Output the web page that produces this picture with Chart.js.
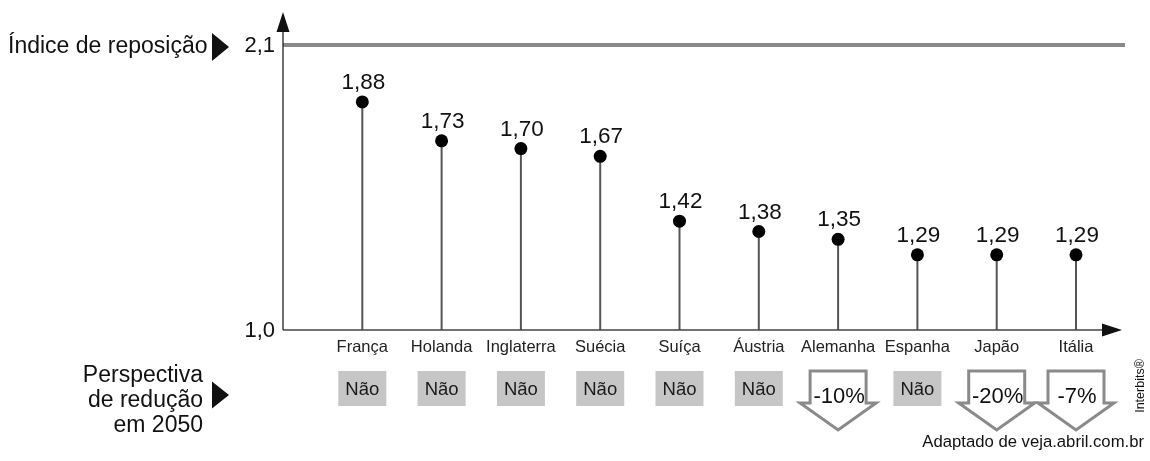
<!DOCTYPE html>
<html>
<head>
<meta charset="utf-8">
<script src="https://cdn.jsdelivr.net/npm/chart.js@4"></script>
<style>
html,body{margin:0;padding:0;background:#fff;}
#wrap{width:1150px;height:461px;position:relative;}
</style>
</head>
<body>
<div id="wrap"><canvas id="c" width="1150" height="461"></canvas></div>
<script>
const categorias = ['França','Holanda','Inglaterra','Suécia','Suíça','Áustria','Alemanha','Espanha','Japão','Itália'];
const indices = [1.88, 1.73, 1.70, 1.67, 1.42, 1.38, 1.35, 1.29, 1.29, 1.29];
const perspectiva = ['Não','Não','Não','Não','Não','Não','-10%','Não','-20%','-7%'];
const yTickValues = [1.0, 2.1];
const indiceReposicao = 2.1;

const FONT = '"Liberation Sans", Arial, Helvetica, sans-serif';
const fmt = (v, d) => v.toFixed(d).replace('.', ',');

function tri(ctx, x, y, w, h) {
  ctx.beginPath();
  ctx.moveTo(x, y - h / 2);
  ctx.lineTo(x + w, y);
  ctx.lineTo(x, y + h / 2);
  ctx.closePath();
  ctx.fill();
}

const drawPlugin = {
  id: 'lollipop',
  beforeDatasetsDraw(chart) {
    const ctx = chart.ctx;
    const xs = chart.scales.x, ys = chart.scales.y;
    const ca = chart.chartArea;
    const y0 = ys.getPixelForValue(ys.min);
    ctx.save();
    // reference line 2,1
    const yr = ys.getPixelForValue(indiceReposicao);
    ctx.strokeStyle = '#8a8a8a';
    ctx.lineWidth = 4;
    ctx.beginPath();
    ctx.moveTo(ca.left, yr);
    ctx.lineTo(ca.right + 3, yr);
    ctx.stroke();
    // stems
    ctx.strokeStyle = '#555';
    ctx.lineWidth = 2;
    indices.forEach((v, i) => {
      const x = xs.getPixelForValue(i + 1);
      ctx.beginPath();
      ctx.moveTo(x, y0);
      ctx.lineTo(x, ys.getPixelForValue(v));
      ctx.stroke();
    });
    // x axis
    ctx.strokeStyle = '#444';
    ctx.lineWidth = 1.5;
    ctx.beginPath();
    ctx.moveTo(ca.left, y0);
    ctx.lineTo(ca.right - 12, y0);
    ctx.stroke();
    ctx.fillStyle = '#111';
    ctx.beginPath();
    ctx.moveTo(ca.right, y0);
    ctx.lineTo(ca.right - 20, y0 - 6.5);
    ctx.lineTo(ca.right - 20, y0 + 6.5);
    ctx.closePath();
    ctx.fill();
    // y axis
    ctx.strokeStyle = '#222';
    ctx.lineWidth = 1.3;
    ctx.beginPath();
    ctx.moveTo(ca.left, y0);
    ctx.lineTo(ca.left, ca.top + 10);
    ctx.stroke();
    ctx.beginPath();
    ctx.moveTo(ca.left, ca.top);
    ctx.lineTo(ca.left - 6.5, ca.top + 20);
    ctx.lineTo(ca.left + 6.5, ca.top + 20);
    ctx.closePath();
    ctx.fill();
    ctx.restore();
  },
  afterDatasetsDraw(chart) {
    const ctx = chart.ctx;
    const xs = chart.scales.x, ys = chart.scales.y;
    const ca = chart.chartArea;
    const meta = chart.getDatasetMeta(0);
    ctx.save();
    ctx.fillStyle = '#111';
    // value labels
    ctx.font = '22.5px ' + FONT;
    ctx.textAlign = 'center';
    ctx.textBaseline = 'alphabetic';
    meta.data.forEach((pt, i) => {
      ctx.fillText(fmt(indices[i], 2), pt.x + 1, pt.y - 13);
    });
    // y tick labels
    ctx.font = '22px ' + FONT;
    ctx.textAlign = 'right';
    ctx.textBaseline = 'middle';
    yTickValues.forEach(v => {
      ctx.fillText(fmt(v, 1), ca.left - 8, ys.getPixelForValue(v) + 1);
    });
    // left titles
    const yr = ys.getPixelForValue(indiceReposicao);
    ctx.font = '23px ' + FONT;
    ctx.textAlign = 'left';
    ctx.textBaseline = 'alphabetic';
    ctx.fillText('Índice de reposição', 8, yr + 8);
    tri(ctx, 212, yr + 2, 17, 28);
    ctx.textAlign = 'right';
    ctx.fillText('Perspectiva', 203, 382);
    ctx.fillText('de redução', 203, 407);
    ctx.fillText('em 2050', 203, 432);
    tri(ctx, 212, 395, 17, 27);
    // category labels
    const y0 = ys.getPixelForValue(ys.min);
    ctx.font = '16.5px ' + FONT;
    ctx.textAlign = 'center';
    ctx.fillStyle = '#222';
    categorias.forEach((c, i) => {
      ctx.fillText(c, xs.getPixelForValue(i + 1), y0 + 22);
    });
    // perspective row
    perspectiva.forEach((p, i) => {
      const cx = xs.getPixelForValue(i + 1);
      if (p === 'Não') {
        ctx.fillStyle = '#c6c6c6';
        ctx.fillRect(cx - 24, 371, 48, 35);
        ctx.fillStyle = '#1a1a1a';
        ctx.font = '18.5px ' + FONT;
        ctx.textAlign = 'center';
        ctx.textBaseline = 'alphabetic';
        ctx.fillText(p, cx, 395);
      } else {
        ctx.beginPath();
        ctx.moveTo(cx - 28, 371);
        ctx.lineTo(cx + 28, 371);
        ctx.lineTo(cx + 28, 403);
        ctx.lineTo(cx + 38, 403);
        ctx.lineTo(cx, 430);
        ctx.lineTo(cx - 38, 403);
        ctx.lineTo(cx - 28, 403);
        ctx.closePath();
        ctx.fillStyle = '#fff';
        ctx.fill();
        ctx.strokeStyle = '#8a8a8a';
        ctx.lineWidth = 3;
        ctx.lineJoin = 'miter';
        ctx.stroke();
        ctx.fillStyle = '#111';
        ctx.font = '22px ' + FONT;
        ctx.textAlign = 'center';
        ctx.textBaseline = 'alphabetic';
        ctx.fillText(p, cx + 1, 403);
      }
    });
    // source
    ctx.fillStyle = '#111';
    ctx.font = '16.7px ' + FONT;
    ctx.textAlign = 'right';
    ctx.fillText('Adaptado de veja.abril.com.br', 1144, 447);
    // Interbits
    ctx.save();
    ctx.translate(1144, 386);
    ctx.rotate(-Math.PI / 2);
    ctx.font = '12.5px ' + FONT;
    ctx.textAlign = 'center';
    ctx.textBaseline = 'alphabetic';
    ctx.fillText('Interbits®', 0, 0);
    ctx.restore();
    ctx.restore();
  }
};

new Chart(document.getElementById('c'), {
  type: 'scatter',
  data: {
    datasets: [{
      data: indices.map((v, i) => ({ x: i + 1, y: v })),
      backgroundColor: '#000',
      borderColor: '#000',
      pointRadius: 6.5,
      pointHoverRadius: 6.5,
      borderWidth: 0
    }]
  },
  options: {
    responsive: false,
    animation: false,
    events: [],
    layout: { padding: { left: 283, right: 28, top: 12, bottom: 131 } },
    plugins: { legend: { display: false }, tooltip: { enabled: false } },
    scales: {
      x: { type: 'linear', min: 0, max: 10.58, display: false },
      y: { type: 'linear', min: 1.0, max: 2.227, display: false }
    }
  },
  plugins: [drawPlugin]
});
</script>
</body>
</html>
